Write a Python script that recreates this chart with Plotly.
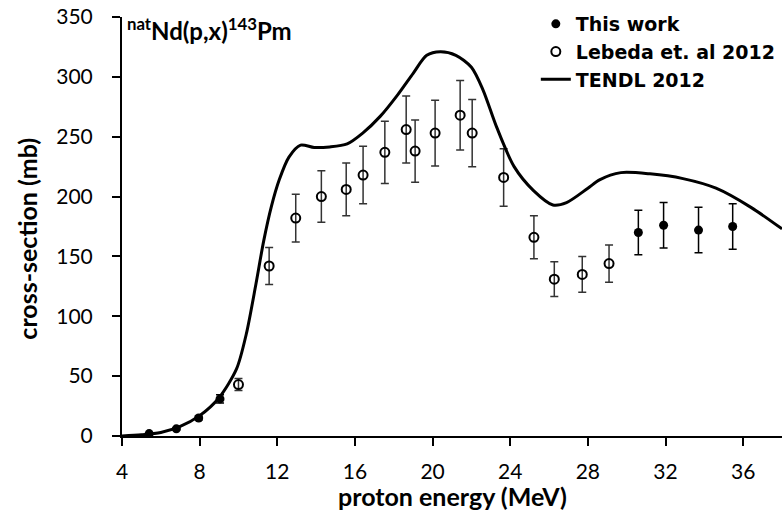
import plotly.graph_objects as go

# This work (filled)
this_e = [5.4, 6.8, 7.95, 9.05, 30.6, 31.9, 33.7, 35.46]
this_xs = [2, 6, 15, 31, 170, 176, 172, 175]
this_err = [0.3, 0.7, 1.7, 3.5, 18.5, 19, 19, 19]

# Lebeda et al. 2012 (open)
leb_e = [10.0, 11.58, 12.95, 14.27, 15.55, 16.42, 17.54, 18.64, 19.1, 20.13,
         21.42, 22.04, 23.66, 25.22, 26.27, 27.71, 29.09]
leb_xs = [43, 142, 182, 200, 206, 218, 237, 256, 238, 253,
          268, 253, 216, 166, 131, 135, 144]
leb_err = [5, 15.5, 20, 21.5, 22, 24, 26, 28, 26, 27.5,
           29, 28, 24, 18, 14.5, 15, 15.5]

# TENDL 2012
tendl_e = [4, 5, 6, 7, 8, 9, 9.9, 10.4, 10.9, 11.3, 11.7, 12.1, 12.6, 13.2, 13.9,
           14.7, 15.6, 16.4, 17.3, 18.2, 19.0, 19.7, 20.4, 21.2, 22.0, 22.6, 23.3,
           24.2, 25.2, 26.2, 26.9, 28.0, 28.6, 29.7, 31.2, 32.9, 34.6, 36.4, 38]
tendl_xs = [0, 1, 3, 8, 17, 32, 56, 85, 127, 163, 192, 214, 233, 243, 241,
            241.5, 244, 253, 267, 285, 303, 318, 321, 318, 308, 289, 258,
            225, 205, 193, 195, 207, 214, 220, 219, 215, 207, 191, 173]

x_ticks = [4, 8, 12, 16, 20, 24, 28, 32, 36]
y_ticks = [0, 50, 100, 150, 200, 250, 300, 350]

FONT = "Lato"

fig = go.Figure()
fig.add_trace(go.Scatter(
    x=this_e, y=this_xs, mode="markers", name="<b>This work</b>",
    marker=dict(symbol="circle", size=9, color="black"),
    error_y=dict(type="data", array=this_err, color="black", thickness=1.5, width=4),
))
fig.add_trace(go.Scatter(
    x=leb_e, y=leb_xs, mode="markers", name="<b>Lebeda et. al 2012</b>",
    marker=dict(symbol="circle-open", size=9, color="black", line=dict(width=2)),
    error_y=dict(type="data", array=leb_err, color="#333333", thickness=1.5, width=4),
))
fig.add_trace(go.Scatter(
    x=tendl_e, y=tendl_xs, mode="lines", name="<b>TENDL 2012</b>",
    line=dict(color="black", width=3, shape="spline", smoothing=0.8),
))

fig.add_annotation(
    text="<b><sup>nat</sup>Nd(p,x)<sup>143</sup>Pm</b>",
    xref="paper", yref="paper", x=0.004, y=0.971, xanchor="left", yanchor="middle",
    showarrow=False, font=dict(family=FONT, size=24, color="black"),
)
fig.add_annotation(
    text="<b>cross-section (mb)</b>", textangle=-90,
    xref="paper", yref="paper", x=(27 - 122) / 660, y=0.471, xanchor="center", yanchor="middle",
    showarrow=False, font=dict(family=FONT, size=25, color="black"),
)
fig.add_annotation(
    text="<b>proton energy (MeV)</b>",
    xref="paper", yref="paper", x=0.5, y=(436 - 496) / 419, xanchor="center", yanchor="middle",
    showarrow=False, font=dict(family=FONT, size=25, color="black"),
)

fig.update_layout(
    width=782, height=513,
    margin=dict(l=122, r=0, t=17, b=77, autoexpand=False),
    paper_bgcolor="white", plot_bgcolor="white",
    font=dict(family=FONT, color="black"),
    showlegend=True,
    legend=dict(
        x=0.627, y=1.0286, xanchor="left", yanchor="top",
        bgcolor="rgba(0,0,0,0)", font=dict(family="DejaVu Sans", size=19, color="black"),
        itemwidth=30, tracegroupgap=0,
    ),
    xaxis=dict(
        range=[4, 38], tickvals=x_ticks, ticktext=[str(v) for v in x_ticks],
        showline=True, linecolor="black", linewidth=2, showgrid=False, zeroline=False,
        ticks="outside", ticklen=8, tickwidth=1.5, tickcolor="black",
        tickfont=dict(family=FONT, size=21, color="black"),
        ticklabelstandoff=8,
        automargin=False,
    ),
    yaxis=dict(
        range=[0, 350], tickvals=y_ticks, ticktext=[str(v) for v in y_ticks],
        showline=True, linecolor="black", linewidth=2, showgrid=False, zeroline=False,
        ticks="outside", ticklen=8, tickwidth=1.5, tickcolor="black",
        tickfont=dict(family=FONT, size=21, color="black"),
        ticklabelstandoff=15,
        automargin=False,
    ),
)

fig.write_html("out.html", config={"displayModeBar": False},
               post_script="document.body.style.margin='0';")
